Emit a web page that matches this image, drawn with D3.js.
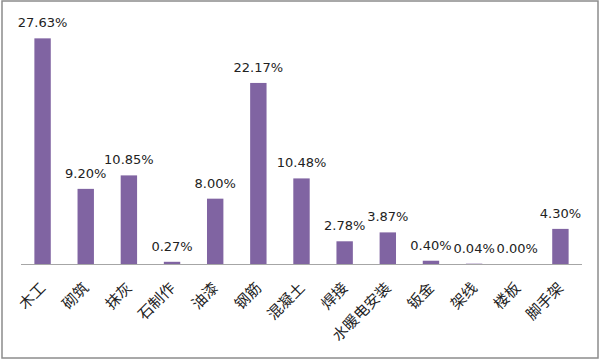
<!DOCTYPE html>
<html>
<head>
<meta charset="utf-8">
<script src="https://cdn.jsdelivr.net/npm/d3@7"></script>
<style>
  body { margin: 0; background: #fff; }
</style>
</head>
<body>
<svg></svg>
<script>
const width = 600
const height = 359

const categories = ["木工", "砌筑", "抹灰", "石制作", "油漆", "钢筋", "混凝土", "焊接", "水暖电安装", "钣金", "架线", "楼板", "脚手架"];
const values = [27.63, 9.20, 10.85, 0.27, 8.00, 22.17, 10.48, 2.78, 3.87, 0.40, 0.04, 0.00, 4.30];

const svg = d3.select("svg")
  .attr("width", width)
  .attr("height", height)
  .style("display", "block");

// chart frame
svg.append("rect")
  .attr("x", 2)
  .attr("y", 1)
  .attr("width", 596)
  .attr("height", 357)
  .attr("fill", "#fff")
  .attr("stroke", "#8c8c8c")
  .attr("stroke-width", 1.5);

const x = d3.scaleBand()
  .domain(categories)
  .range([21, 582])
  .paddingInner(0.62)
  .paddingOuter(0.31);

const y = d3.scaleLinear()
  .domain([0, 30])
  .range([264, 19]);

const data = categories.map((c, i) => ({name: c, value: values[i]}));

svg.append("g")
  .selectAll("rect")
  .data(data)
  .enter()
  .append("rect")
  .attr("x", d => x(d.name))
  .attr("y", d => y(d.value))
  .attr("width", x.bandwidth())
  .attr("height", d => y(0) - y(d.value))
  .attr("fill", "#8064a2");

// baseline
svg.append("line")
  .attr("x1", 21)
  .attr("x2", 582)
  .attr("y1", y(0) + 0.5)
  .attr("y2", y(0) + 0.5)
  .attr("stroke", "#a6a6a6")
  .attr("stroke-width", 1);

// value labels
svg.append("g")
  .selectAll("text")
  .data(data)
  .enter()
  .append("text")
  .attr("x", d => x(d.name) + x.bandwidth() / 2)
  .attr("y", d => y(d.value) - 11)
  .attr("text-anchor", "middle")
  .style("font-family", "DejaVu Sans")
  .style("font-size", "13px")
  .style("fill", "#222")
  .text(d => d.value.toFixed(2) + "%");

// category labels, rotated
svg.append("g")
  .selectAll("text")
  .data(categories)
  .enter()
  .append("text")
  .attr("transform", d => "translate(" + (x(d) + x.bandwidth() / 2 + 4) + "," + 289 + ") rotate(-45)")
  .attr("text-anchor", "end")
  .style("font-family", "Noto Sans CJK SC")
  .style("font-size", "15px")
  .style("fill", "#222")
  .text(d => d);
</script>
</body>
</html>
